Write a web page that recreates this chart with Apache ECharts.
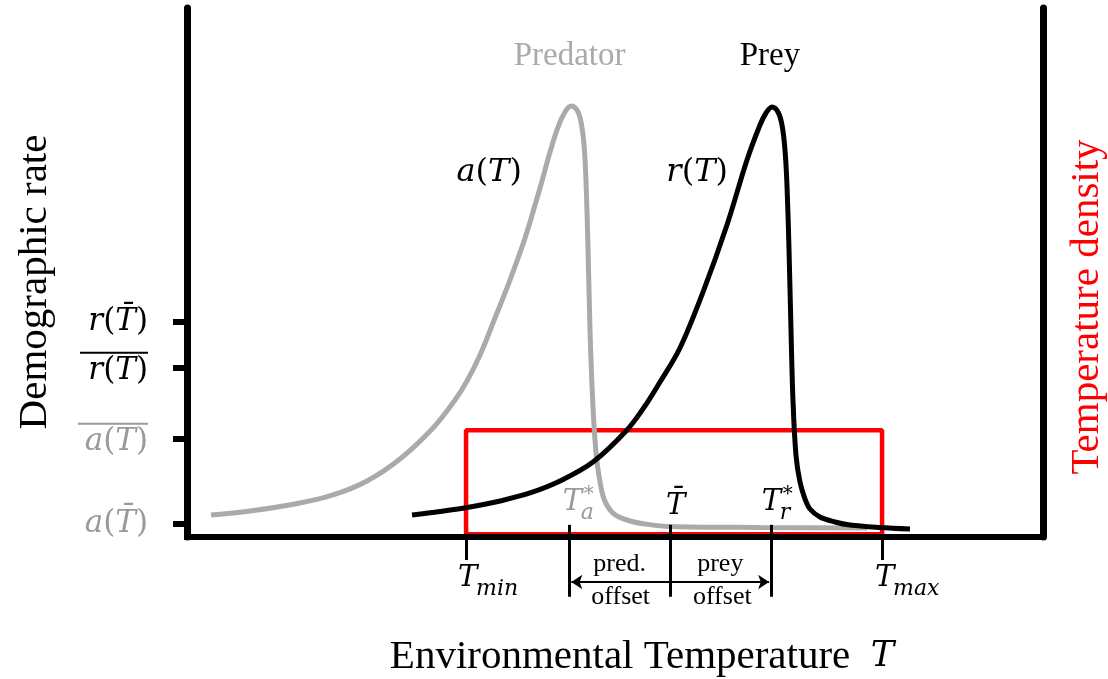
<!DOCTYPE html>
<html>
<head>
<meta charset="utf-8">
<script src="https://cdn.jsdelivr.net/npm/echarts@6/dist/echarts.min.js"></script>
<style>html,body{margin:0;padding:0;background:#fff;}#c{width:1108px;height:679px;}</style>
</head>
<body>
<div id="c"></div>
<script>
// ---------- data (temperature in arbitrary units 0..100, rate 0..100) ----------
const predatorT    = [2.80, 7.36, 13.20, 17.06, 21.03, 24.88, 28.74, 31.31, 32.71, 34.23, 35.98, 37.73, 39.49, 41.24, 42.41, 43.34, 44.16, 44.86, 45.56, 46.03, 46.38, 46.61, 46.85, 47.08, 47.31, 47.55, 47.90, 48.60, 49.42, 50.23, 51.75, 53.50, 56.43, 66.94, 79.44];
const predatorRate = [4.16, 4.91, 6.43, 7.94, 10.59, 14.74, 20.60, 25.90, 29.49, 34.40, 41.40, 48.58, 56.52, 65.97, 72.78, 77.50, 80.34, 81.47, 80.72, 78.45, 74.10, 67.49, 54.25, 39.13, 28.73, 21.17, 14.18, 7.75, 5.10, 3.97, 3.02, 2.46, 1.98, 1.80, 1.70];
const preyT        = [26.29, 29.56, 33.06, 36.57, 40.07, 43.57, 47.43, 51.40, 53.50, 55.26, 57.59, 60.28, 63.08, 65.42, 66.94, 67.64, 68.34, 69.04, 69.51, 69.86, 70.09, 70.33, 70.56, 70.79, 71.14, 71.61, 72.20, 72.78, 73.95, 75.70, 77.45, 80.96, 84.46];
const preyRate     = [4.16, 4.82, 5.67, 6.81, 8.32, 10.59, 14.18, 20.23, 24.76, 29.30, 35.73, 46.31, 58.98, 71.27, 77.88, 80.15, 81.29, 80.34, 77.88, 73.16, 66.54, 54.25, 39.13, 25.90, 15.50, 10.40, 7.18, 5.29, 3.78, 2.84, 2.27, 1.80, 1.51];
const Tmin = 32.6, Tmax = 81.2, densityLevel = 20.2, densityBase = 0.5;
const TaStar = 44.7, Tbar = 56.4, TrStar = 68.2;
const rateTicks = [40.6, 31.9, 18.5, 2.5];   // r(T̄), mean r(T), mean a(T), a(T̄)
const rateTickLabels = [
  '{bi|r}{bn|(}{bi|T\u0304}{bn|)}',
  '{ol| }\n{bi|r}{bn|(}{bi|T}{bn|)}',
  '{olg| }\n{gi|a}{gn|(}{gi|T}{gn|)}',
  '{gi|a}{gn|(}{gi|T\u0304}{gn|)}'
];
const markerTop = 2.3, markerBottom = -11.3, arrowLevel = -8.5;

const serif = "'Liberation Serif', 'Times New Roman', serif";
const math = "'DejaVu Serif', 'Liberation Serif', serif";
const grayLine = '#aaaaaa', grayText = '#9a9a9a';

const densityRect = [[Tmin, densityBase], [Tmin, densityLevel], [Tmax, densityLevel], [Tmax, densityBase], [Tmin, densityBase]];

const chart = echarts.init(document.getElementById('c'));
const mathStyle = (color, italic, size) => ({fontFamily: math, fontStyle: italic ? 'italic' : 'normal', fontSize: size || 31, color: color});

chart.setOption({
  animation: false,
  grid: {left: 187, right: 65, top: 8, bottom: 142},
  xAxis: {
    type: 'value', min: 0, max: 100, z: 5,
    axisLine: {onZero: false, lineStyle: {color: '#000', width: 6, cap: 'square'}},
    axisTick: {show: true, customValues: [Tmin, Tmax], length: 23, lineStyle: {color: '#000', width: 3}},
    axisLabel: {show: false},
    splitLine: {show: false}
  },
  yAxis: [{
    type: 'value', min: 0, max: 100, position: 'left', z: 5,
    axisLine: {show: true, onZero: false, lineStyle: {color: '#000', width: 7}},
    axisTick: {show: true, customValues: rateTicks, length: 14, lineStyle: {color: '#000', width: 6}},
    axisLabel: {
      show: true, customValues: rateTicks, margin: 39, align: 'right',
      formatter: function (v) { const i = rateTicks.indexOf(v); return i >= 0 ? rateTickLabels[i] : ''; },
      rich: {
        bi: mathStyle('#000', true), bn: mathStyle('#000', false),
        gi: mathStyle(grayText, true), gn: mathStyle(grayText, false),
        ol: {width: 68, height: 2, lineHeight: 5, fontSize: 2, backgroundColor: '#000'},
        olg: {width: 70, height: 2, lineHeight: 5, fontSize: 2, backgroundColor: grayText}
      }
    },
    splitLine: {show: false}
  }, {
    type: 'value', min: 0, max: 100, position: 'right', z: 5,
    axisLine: {show: true, onZero: false, lineStyle: {color: '#000', width: 7}},
    axisTick: {show: false}, axisLabel: {show: false}, splitLine: {show: false}
  }],
  series: [
    {type: 'line', name: 'density', data: densityRect, symbol: 'none', z: 1,
     lineStyle: {color: '#ff0000', width: 4.5}, clip: false},
    {type: 'line', name: 'Predator', data: predatorT.map((t, i) => [t, predatorRate[i]]), symbol: 'none', smooth: 0.35, z: 2,
     lineStyle: {color: grayLine, width: 5}},
    {type: 'line', name: 'Prey', data: preyT.map((t, i) => [t, preyRate[i]]), symbol: 'none', smooth: 0.35, z: 3,
     lineStyle: {color: '#000', width: 5}},
    {type: 'lines', coordinateSystem: 'cartesian2d', clip: false, z: 4, symbol: 'none',
     lineStyle: {color: '#000', width: 3, opacity: 1},
     data: [TaStar, Tbar, TrStar].map(t => ({coords: [[t, markerTop], [t, markerBottom]]}))},
    {type: 'lines', coordinateSystem: 'cartesian2d', clip: false, z: 4, symbol: ['none', 'arrow'], symbolSize: 11,
     lineStyle: {color: '#000', width: 2, opacity: 1},
     data: [{coords: [[Tbar, arrowLevel], [TaStar + 0.2, arrowLevel]]}, {coords: [[Tbar, arrowLevel], [TrStar - 0.2, arrowLevel]]}]}
  ]
});

function px(x, y) { return chart.convertToPixel({gridIndex: 0}, [x, y]); }
function txt(x, y, text, o) {
  return {type: 'text', x: x, y: y, z: 10, rotation: o.rotation || 0,
    style: Object.assign({text: text, fill: o.color || '#000', align: o.align || 'center', verticalAlign: 'middle',
      font: (o.italic ? 'italic ' : '') + (o.size || 28) + 'px ' + (o.family || serif)}, o.rich ? {rich: o.rich} : {})};
}
function sym(tx, main, sub, sup, color, baseY) {
  // T with subscript and optional superscript; tx = left of the T glyph
  const els = [txt(tx, baseY, main, {color, italic: true, size: 29, family: math, align: 'left'})];
  els.push(txt(tx + 18, baseY + 11, sub, {color, italic: true, size: 22, family: math, align: 'left'}));
  if (sup) els.push(txt(tx + 21, baseY - 7, sup, {color, size: 20, family: math, align: 'left'}));
  return els;
}

const g = [];
const pPred = px(44.7, 0), pPrey = px(68.1, 0);
g.push(txt(pPred[0], 56, 'Predator', {color: grayLine, size: 33}));
g.push(txt(pPrey[0], 56, 'Prey', {size: 33}));
const pa = px(35.3, 68.8), pr = px(59.6, 68.8);
g.push({type: 'text', x: pa[0], y: pa[1], z: 10, style: {text: '{i|a}{n|(}{i|T}{n|)}', align: 'center', verticalAlign: 'middle',
  rich: {i: mathStyle(grayText, true, 32), n: mathStyle(grayText, false, 32)}}});
g.push({type: 'text', x: pr[0], y: pr[1], z: 10, style: {text: '{i|r}{n|(}{i|T}{n|)}', align: 'center', verticalAlign: 'middle',
  rich: {i: mathStyle('#000', true, 32), n: mathStyle('#000', false, 32)}}});
// markers above the axis
const pTa = px(TaStar, 0), pTb = px(Tbar, 0), pTr = px(TrStar, 0), pTmin = px(Tmin, 0), pTmax = px(Tmax, 0);
g.push(...sym(pTa[0] - 7, 'T', 'a', '*', grayText, 502));
g.push(txt(pTb[0] + 6, 506, 'T\u0304', {italic: true, size: 29, family: math}));
g.push(...sym(pTr[0] - 9, 'T', 'r', '*', '#000', 502));
g.push(...sym(pTmin[0] - 8, 'T', 'min', null, '#000', 578));
g.push(...sym(pTmax[0] - 7, 'T', 'max', null, '#000', 578));
// offsets
const pPo = px((TaStar + Tbar) / 2, 0), pPy = px((Tbar + TrStar) / 2, 0);
g.push(txt(pPo[0], 564, 'pred.', {size: 26}));
g.push(txt(pPo[0] + 1, 597, 'offset', {size: 26}));
g.push(txt(pPy[0], 564, 'prey', {size: 26}));
g.push(txt(pPy[0] + 2, 597, 'offset', {size: 26}));
// axis titles
g.push(txt(35, 282, 'Demographic rate', {size: 41, rotation: Math.PI / 2}));
g.push(txt(1087, 307, 'Temperature density', {size: 41, color: '#ff0000', rotation: Math.PI / 2}));
g.push({type: 'text', x: 642, y: 657, z: 10, style: {text: '{n|Environmental Temperature  }{i|T}', align: 'center', verticalAlign: 'middle',
  rich: {n: {fontFamily: serif, fontSize: 41, color: '#000'}, i: {fontFamily: math, fontStyle: 'italic', fontSize: 35, color: '#000'}}}});
chart.setOption({graphic: g});
</script>
</body>
</html>
